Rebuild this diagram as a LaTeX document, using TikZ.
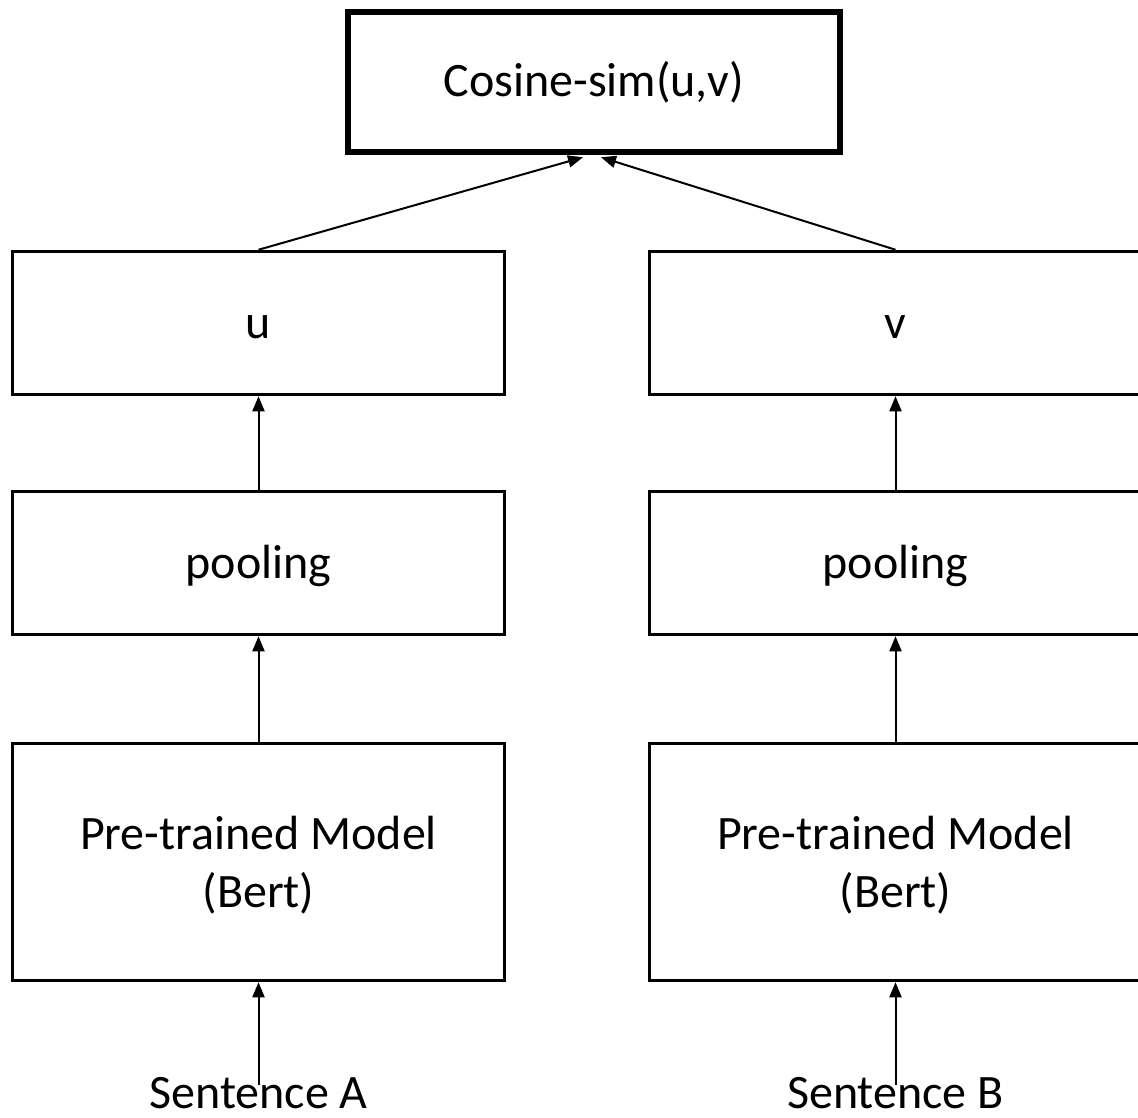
\documentclass[tikz,border=0pt]{standalone}
\usepackage{fontspec}
\setmainfont{Carlito}
\usetikzlibrary{arrows.meta}
\begin{document}
\begin{tikzpicture}[x=1pt,y=-1pt,
  box/.style={draw=black,line width=3.5pt,fill=white,rectangle,inner sep=0pt,
    minimum width=492pt,font=\fontsize{48}{58}\selectfont,align=center},
  oneline/.style={text height=40pt,text depth=10pt},
  topbox/.style={box,oneline,line width=5.5pt,minimum width=492pt,minimum height=140pt},
  layerbox/.style={box,oneline,minimum height=143pt},
  modelbox/.style={box,text height=100pt,text depth=10pt,minimum height=237pt},
  link/.style={draw=black,line width=2pt,-{Triangle[width=12pt,length=15pt]}},
  caption/.style={font=\fontsize{48}{58}\selectfont,anchor=base,inner sep=0pt}]
  \clip (0,0) rectangle (1138,1118);

  % similarity head
  \node[topbox] (cos) at (594,82) {Cosine-sim(u,v)};

  % left branch
  \node[layerbox] (u) at (258.5,323) {u};
  \node[layerbox] (poolA) at (258.5,563) {pooling};
  \node[modelbox] (bertA) at (258.5,862) {Pre-trained Model\\(Bert)};
  \node[caption] (sentA) at (258.5,1108) {Sentence A};

  % right branch
  \node[layerbox] (v) at (895.5,323) {v};
  \node[layerbox] (poolB) at (895.5,563) {pooling};
  \node[modelbox] (bertB) at (895.5,862) {Pre-trained Model\\(Bert)};
  \node[caption] (sentB) at (895.5,1108) {Sentence B};

  % connectors
  \coordinate (inA) at ([xshift=-11pt,yshift=-2.5pt]cos.south);
  \coordinate (inB) at ([xshift=7pt,yshift=-2.5pt]cos.south);
  \draw[link] (u.north) -- (inA);
  \draw[link] (v.north) -- (inB);
  \draw[link] (poolA.north) -- (u.south);
  \draw[link] (poolB.north) -- (v.south);
  \draw[link] (bertA.north) -- (poolA.south);
  \draw[link] (bertB.north) -- (poolB.south);
  \coordinate (srcA) at ([yshift=23pt]sentA.base);
  \coordinate (srcB) at ([yshift=23pt]sentB.base);
  \draw[link] (srcA) -- (bertA.south);
  \draw[link] (srcB) -- (bertB.south);
\end{tikzpicture}
\end{document}
